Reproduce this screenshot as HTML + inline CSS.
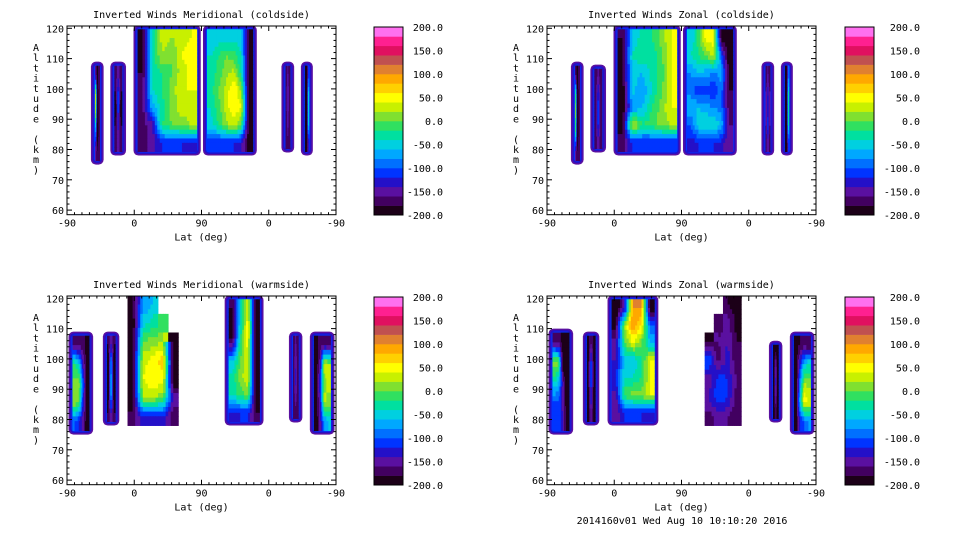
<!DOCTYPE html>
<html><head><meta charset="utf-8">
<style>
html,body{margin:0;padding:0;background:#fff;}
svg{display:block;font-family:"DejaVu Sans Mono","Liberation Mono",monospace;}
text{font-size:10px;fill:#000;}
</style></head>
<body>
<svg id="root" width="960" height="540" xmlns="http://www.w3.org/2000/svg"></svg>
<script>
// ---- data ----
const colorLevels = [-200,-180,-160,-140,-120,-100,-80,-60,-40,-20,0,20,40,60,80,100,120,140,160,180];
const bandColors = ["#1c0018","#420060","#5a10a0","#2410c8","#0034ff","#0070ff","#00a8ff","#00d0e0","#00e0a0","#30e060","#80e030","#c8f000","#ffff00","#ffd000","#ffa800","#e08030","#c05050","#e01060","#ff2090","#ff70f0"];
const cbarLabels = ["200.0","150.0","100.0","50.0","0.0","-50.0","-100.0","-150.0","-200.0"];
const xTickLabels = ["-90","0","90","0","-90"];
const yTickValues = [60,70,80,90,100,110,120];
const panelTitles = ["Inverted Winds Meridional (coldside)","Inverted Winds Zonal (coldside)","Inverted Winds Meridional (warmside)","Inverted Winds Zonal (warmside)"];
// blobs: [track x0, track x1, alt0, alt1, value grid rows (top->bottom)]
const p1Blobs = [
 [32,49,75,109,[[-160,-190,-170],[40,-200,-170],[20,-200,-170],[-80,-200,-170],[-150,-180,-170]]],
 [58,79,78,109,[[-170,-150,-170],[-180,-110,-180],[-200,-100,-200],[-180,-130,-180],[-170,-150,-170]]],
 [89,179,78,121,[[-190,-40,30,20,30,40],[-200,-30,20,0,40,50],[-180,-30,-20,0,30,50],[-170,-40,-20,10,40,40],[-170,-70,-30,10,30,30],[-170,-150,-20,0,10,20],[-170,-150,-120,-120,-120,-130]]],
 [182,254,78,121,[[-60,-50,-60,-50,-50,-190],[-40,-20,0,-10,-40,-200],[-40,-10,10,30,-30,-200],[-30,0,30,60,20,-200],[-40,-10,30,60,40,-200],[-50,-20,10,30,0,-200],[-120,-120,-120,-120,-140,-190]]],
 [287,304,79,109,[[-180,-150,-180],[-170,-140,-170],[-170,-140,-170],[-170,-150,-170],[-180,-160,-180]]],
 [313,329,78,109,[[-200,-190,-120],[-200,-200,-60],[-200,-200,-40],[-200,-200,-60],[-200,-190,-140]]]
];
const p2Blobs = [
 [32,49,75,109,[[-170,-190,-170],[-10,-200,-170],[10,-200,-170],[-20,-200,-170],[-150,-180,-170]]],
 [58,79,79,108,[[-180,-150,-180],[-170,-120,-170],[-180,-100,-180],[-170,-110,-170],[-170,-150,-170]]],
 [89,179,78,121,[[-180,-60,-30,-20,10,40],[-190,-40,-20,-40,0,40],[-190,-50,-60,-30,-10,40],[-200,-50,-80,-40,0,40],[-200,-80,-60,-20,10,40],[-190,40,-20,-10,10,20],[-170,-120,-120,-120,-120,-120]]],
 [182,254,78,121,[[-60,-10,50,50,-200,-200],[-40,-20,0,30,-100,-200],[-80,-60,-70,-80,-70,-190],[-90,-120,-110,-120,-90,-180],[-60,-60,-70,-80,-90,-170],[-100,-50,-40,-40,-60,-160],[-130,-120,-120,-120,-130,-160]]],
 [287,304,78,109,[[-180,-150,-180],[-160,-130,-160],[-160,-120,-160],[-160,-110,-160],[-170,-140,-170]]],
 [313,329,78,109,[[-200,-190,-100],[-200,-190,-40],[-200,-190,-20],[-200,-190,-40],[-200,-190,-120]]]
];
const p3Blobs = [
 [2,35,75,109,[[-170,-170,-170,-190],[-20,-50,-140,-200],[10,20,-100,-200],[20,0,-120,-200],[-100,-120,-150,-200]]],
 [48,70,78,109,[[-180,-140,-180],[-200,-70,-200],[-200,-60,-200],[-200,-60,-200],[-180,-140,-180]]],
 [81,149,78,121,[[-190,-80,-60,null,null],[-200,-50,-30,-20,null],[-200,0,10,20,-200],[-200,30,50,70,-200],[-200,40,60,50,-200],[-200,20,20,10,-150],[-170,-130,-130,-130,-170]]],
 [211,263,78,121,[[-180,-50,30,-200],[-200,-40,60,-200],[-170,-20,50,-200],[-60,0,40,-200],[-30,10,40,-200],[-40,-10,0,-190],[-130,-120,-120,-180]]],
 [297,315,79,109,[[-180,-150,-180],[-170,-140,-170],[-170,-130,-170],[-170,-140,-170],[-180,-160,-180]]],
 [325,358,75,109,[[-190,-170,-160,-170],[-200,-150,30,20],[-200,-120,10,30],[-200,-140,30,10],[-200,-150,-80,-60]]]
];
const p4Blobs = [
 [2,35,75,110,[[-170,-170,-190,-200],[20,0,-200,-200],[-40,-60,-150,-200],[-100,-100,-150,-200],[-110,-100,-140,-200]]],
 [48,70,78,109,[[-190,-160,-190],[-190,-110,-190],[-190,-100,-190],[-190,-120,-190],[-190,-150,-190]]],
 [81,149,78,121,[[-200,-150,100,100,-200],[-190,20,100,60,-100],[-150,-10,40,0,-60],[-140,-60,-60,-20,40],[-120,-40,-40,-20,40],[-150,-10,10,10,40],[-160,-120,-120,-120,-140]]],
 [211,260,78,121,[[null,null,-180,-190],[null,-180,-150,-190],[-190,-160,-140,-180],[-100,-170,-130,-180],[-150,-110,-120,-160],[-140,-100,-120,-170],[-170,-150,-160,-180]]],
 [297,315,79,106,[[-190,-180,-190],[-190,-140,-190],[-190,-130,-190],[-190,-140,-190],[-190,-170,-190]]],
 [325,358,75,109,[[-190,-180,-170,-180],[-200,-120,-60,-40],[-200,-80,20,10],[-200,-60,60,40],[-190,-120,-100,-80]]]
];
const panelBlobs = [p1Blobs,p2Blobs,p3Blobs,p4Blobs];

// ---- layout ----
const NS="http://www.w3.org/2000/svg";
const root=document.getElementById('root');
function mk(tag,attrs,parent){const e=document.createElementNS(NS,tag);for(const k in attrs)e.setAttribute(k,attrs[k]);(parent||root).appendChild(e);return e;}
const offsets=[[0,0],[480,0],[0,270],[480,270]];
function colorFor(v){let i=Math.floor((v+200)/20);i=Math.max(0,Math.min(19,i));return bandColors[i];}

panelBlobs.forEach((blobs,pi)=>{
  const ox=offsets[pi][0], oy=offsets[pi][1];
  const L=67+ox, R=336+ox, T=26+oy, B=214.7+oy;
  const X=u=>L+u*(269/360);
  const Y=a=>28.3+oy+(120-a)*3.03;
  const g=mk('g',{});
  
  
  const cid='clip'+pi;
  const cp=mk('clipPath',{id:cid},g); mk('rect',{x:L,y:T,width:R-L,height:B-T},cp);
  const plot=mk('g',{'clip-path':'url(#'+cid+')'},g);
  
  
  blobs.forEach((b,bi)=>{
    const [u0,u1,a0,a1,grid]=b;
    const x0=X(u0),x1=X(u1),y0=Y(a1),y1=Y(a0);
    const bg=mk('g',{},plot);
    
    
    const hasNull=grid.some(r=>r.includes(null));
    const pad=hasNull?0:4;
    if(!hasNull){
      mk('rect',{x:x0,y:y0,width:x1-x0,height:y1-y0,rx:5,fill:bandColors[2]},bg);
      mk('rect',{x:x0+1.5,y:y0+1.5,width:x1-x0-3,height:y1-y0-3,rx:4,fill:bandColors[3]},bg);
      mk('rect',{x:x0+3,y:y0+3,width:x1-x0-6,height:y1-y0-6,rx:3,fill:bandColors[4]},bg);
    }
    const rows=grid.length, cols=grid[0].length;
    const ix0=x0+pad, ix1=x1-pad, iy0=y0+pad, iy1=y1-pad;
    const S=4, nx=cols*S, ny=rows*S, cw=(ix1-ix0)/nx, ch=(iy1-iy0)/ny;
    const val=(r,c)=>grid[Math.max(0,Math.min(rows-1,r))][Math.max(0,Math.min(cols-1,c))];
    for(let j=0;j<ny;j++)for(let i=0;i<nx;i++){
      const fx=(i+0.5)/S-0.5, fy=(j+0.5)/S-0.5;
      const c0=Math.floor(fx), r0=Math.floor(fy), tx=fx-c0, ty=fy-r0;
      const near=val(Math.round(fy),Math.round(fx));
      if(near===null) continue;
      const q=[val(r0,c0),val(r0,c0+1),val(r0+1,c0),val(r0+1,c0+1)];
      let v;
      if(q.includes(null)) v=near;
      else v=(q[0]*(1-tx)+q[1]*tx)*(1-ty)+(q[2]*(1-tx)+q[3]*tx)*ty;
      mk('rect',{x:(ix0+i*cw).toFixed(2),y:(iy0+j*ch).toFixed(2),width:(cw+0.4).toFixed(2),height:(ch+0.4).toFixed(2),fill:colorFor(v)},bg);
    }
  });
  const fr=mk('rect',{x:L,y:T,width:R-L,height:B-T,fill:'none',stroke:'#000','stroke-width':1},g);
  
  
  for(let a=60;a<=120;a+=2){const y=Y(a),len=(a%10===0)?5:2.5;
    mk('line',{x1:L,x2:L+len,y1:y,y2:y,stroke:'#000','stroke-width':1},g);
    mk('line',{x1:R,x2:R-len,y1:y,y2:y,stroke:'#000','stroke-width':1},g);}
  yTickValues.forEach(a=>{const t=mk('text',{x:L-3,y:Y(a)+4,'text-anchor':'end'},g);t.textContent=a;
    });
  for(let u=0;u<=360;u+=10){const x=X(u),len=(u%90===0)?5:2.5;
    mk('line',{x1:x,x2:x,y1:B,y2:B-len,stroke:'#000','stroke-width':1},g);
    mk('line',{x1:x,x2:x,y1:T,y2:T+len,stroke:'#000','stroke-width':1},g);}
  xTickLabels.forEach((s,i)=>{const t=mk('text',{x:X(i*90),y:B+12,'text-anchor':'middle'},g);t.textContent=s;
    });
  const xl=mk('text',{x:(L+R)/2,y:B+26,'text-anchor':'middle'},g);xl.textContent='Lat (deg)';
  
  const yt="Altitude (km)";
  const yg=mk('g',{},g);
  for(let k=0;k<yt.length;k++){const t=mk('text',{x:L-31,y:T+25+k*10.2,'text-anchor':'middle'},yg);t.textContent=yt[k];}
  const tt=mk('text',{x:(L+R)/2,y:T-8,'text-anchor':'middle'},g);tt.textContent=panelTitles[pi];
  
  const cx0=(pi%2===0?374:845), cw2=29, cy0=27+oy, cy1=215+oy;
  const cb=mk('g',{},g);
  const bh=(cy1-cy0)/colorLevels.length;
  colorLevels.forEach((lv,i)=>{mk('rect',{x:cx0,y:(cy1-(i+1)*bh).toFixed(2),width:cw2,height:(bh+0.3).toFixed(2),fill:colorFor(lv+10)},cb);});
  mk('rect',{x:cx0,y:cy0,width:cw2,height:cy1-cy0,fill:'none',stroke:'#000','stroke-width':1},cb);
  const lx=(pi%2===0?443:920);
  cbarLabels.forEach((s,i)=>{const t=mk('text',{x:lx,y:cy0+4+i*(cy1-cy0)/8,'text-anchor':'end'},cb);t.textContent=s;
    });
});
const ft=mk('text',{x:682,y:524,'text-anchor':'middle'});ft.textContent='2014160v01 Wed Aug 10 10:10:20 2016';


</script>
</body></html>
